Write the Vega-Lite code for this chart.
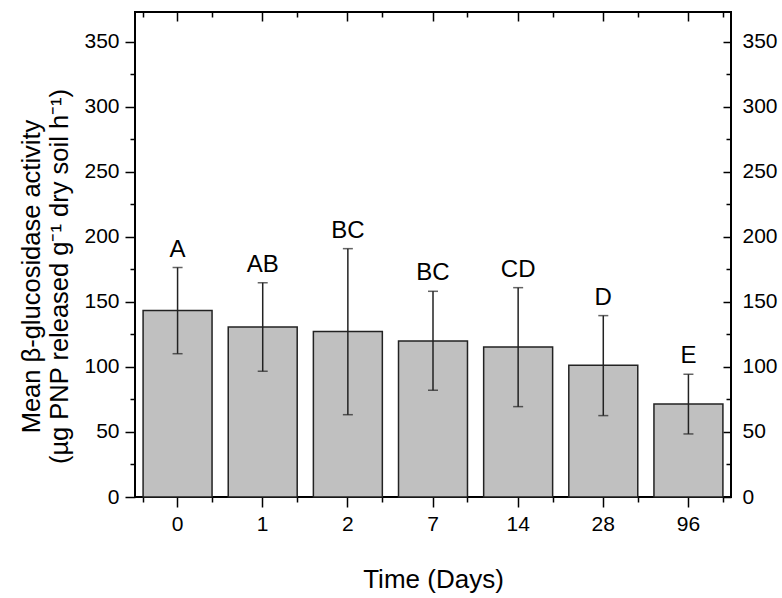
{
  "$schema": "https://vega.github.io/schema/vega-lite/v6.json",
  "width": 596,
  "height": 485,
  "autosize": "none",
  "padding": {"left": 135, "top": 12, "right": 51, "bottom": 101},
  "background": "white",
  "data": {
    "values": [
      {"day": "0", "mean": 143.5, "lo": 110.2, "hi": 176.5, "grp": "A"},
      {"day": "1", "mean": 130.8, "lo": 96.7, "hi": 164.8, "grp": "AB"},
      {"day": "2", "mean": 127.2, "lo": 63.3, "hi": 191.0, "grp": "BC"},
      {"day": "7", "mean": 120.0, "lo": 82.1, "hi": 158.2, "grp": "BC"},
      {"day": "14", "mean": 115.4, "lo": 69.5, "hi": 161.0, "grp": "CD"},
      {"day": "28", "mean": 101.3, "lo": 62.6, "hi": 139.5, "grp": "D"},
      {"day": "96", "mean": 71.5, "lo": 48.5, "hi": 94.4, "grp": "E"}
    ]
  },
  "resolve": {"axis": {"x": "independent", "y": "independent"}},
  "layer": [
    {
      "mark": {"type": "bar", "fill": "#c0c0c0", "stroke": "#222222", "strokeWidth": 1.5},
      "encoding": {
        "x": {
          "field": "day", "type": "nominal", "sort": null,
          "scale": {"paddingInner": 0.19, "paddingOuter": 0.095},
          "axis": {"orient": "bottom", "title": "Time (Days)", "labelAngle": 0, "tickSize": 10, "labelPadding": 6, "titlePadding": 32, "titleFontSize": 26}
        },
        "y": {
          "field": "mean", "type": "quantitative",
          "scale": {"domain": [0, 373], "nice": false, "zero": true},
          "axis": {
            "orient": "left",
            "title": ["Mean β-glucosidase activity", "(µg PNP released g⁻¹ dry soil h⁻¹)"],
            "values": [0, 50, 100, 150, 200, 250, 300, 350],
            "tickSize": 10, "labelPadding": 6, "titlePadding": 11, "titleLineHeight": 28,
            "titleFontSize": 25.5, "titleY": 264
          }
        }
      }
    },
    {
      "mark": {"type": "rule", "color": "#222222", "strokeWidth": 1.5},
      "encoding": {
        "x": {
          "field": "day", "type": "nominal", "sort": null,
          "axis": {"orient": "bottom", "title": null, "labels": false, "tickBand": "extent", "tickSize": 5}
        },
        "y": {
          "field": "lo", "type": "quantitative",
          "axis": {"orient": "left", "title": null, "labels": false, "values": [25, 75, 125, 175, 225, 275, 325], "tickSize": 5}
        },
        "y2": {"field": "hi"}
      }
    },
    {
      "mark": {"type": "tick", "color": "#222222", "thickness": 1.5, "size": 10},
      "encoding": {
        "x": {
          "field": "day", "type": "nominal", "sort": null,
          "axis": {"orient": "top", "title": null, "labels": false, "tickSize": -9}
        },
        "y": {
          "field": "lo", "type": "quantitative",
          "axis": {"orient": "right", "title": null, "values": [0, 50, 100, 150, 200, 250, 300, 350], "tickSize": -8, "labelPadding": 19}
        }
      }
    },
    {
      "mark": {"type": "tick", "color": "#222222", "thickness": 1.5, "size": 10},
      "encoding": {
        "x": {
          "field": "day", "type": "nominal", "sort": null,
          "axis": {"orient": "top", "title": null, "labels": false, "tickBand": "extent", "tickSize": -5}
        },
        "y": {
          "field": "hi", "type": "quantitative",
          "axis": {"orient": "right", "title": null, "labels": false, "values": [25, 75, 125, 175, 225, 275, 325], "tickSize": -5}
        }
      }
    },
    {
      "mark": {"type": "text", "baseline": "alphabetic", "align": "center", "dy": -11, "fontSize": 24, "font": "Liberation Sans", "color": "black"},
      "encoding": {
        "x": {"field": "day", "type": "nominal", "sort": null, "axis": null},
        "y": {"field": "hi", "type": "quantitative", "axis": null},
        "text": {"field": "grp"}
      }
    }
  ],
  "config": {
    "view": {"stroke": "black", "strokeWidth": 2},
    "axis": {
      "domain": false,
      "grid": false,
      "tickColor": "black",
      "tickWidth": 1.5,
      "labelColor": "black",
      "labelFont": "Liberation Sans",
      "labelFontSize": 21,
      "titleFont": "Liberation Sans",
      "titleFontSize": 24,
      "titleFontWeight": "normal",
      "titleColor": "black"
    }
  }
}
